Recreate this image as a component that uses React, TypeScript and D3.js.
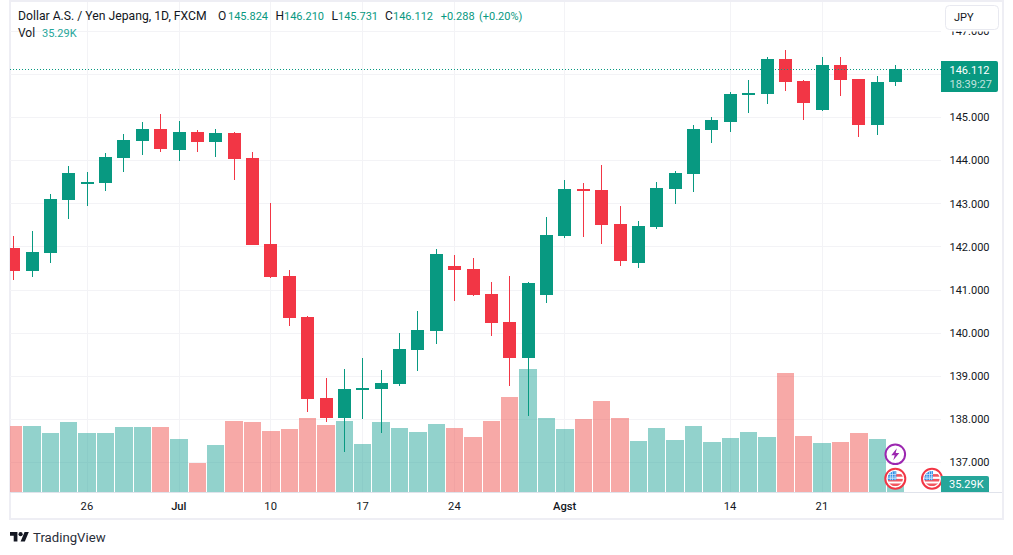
import React, { useEffect, useRef } from "react";
import * as d3 from "d3";

const days = [
  "06-20", "06-21", "06-22", "06-23", "06-26", "06-27", "06-28", "06-29", "06-30", "07-03",
  "07-04", "07-05", "07-06", "07-07", "07-10", "07-11", "07-12", "07-13", "07-14", "07-17",
  "07-18", "07-19", "07-20", "07-21", "07-24", "07-25", "07-26", "07-27", "07-28", "07-31",
  "08-01", "08-02", "08-03", "08-04", "08-07", "08-08", "08-09", "08-10", "08-11", "08-14",
  "08-15", "08-16", "08-17", "08-18", "08-21", "08-22", "08-23", "08-24", "08-25",
];

const opens = [
  141.97, 141.436, 141.854, 143.083, 143.454, 143.477, 144.057, 144.451, 144.729, 144.242,
  144.659, 144.428, 144.636, 144.057, 142.062, 141.32, 140.37, 138.492, 138.028, 138.677,
  138.701, 138.817, 139.605, 140.045, 141.553, 141.483, 140.903, 140.254, 139.419, 140.88,
  142.248, 143.338, 143.315, 142.526, 141.622, 142.457, 143.338, 143.686, 144.706, 144.891,
  145.517, 145.54, 146.352, 145.842, 145.17, 146.213, 145.888, 144.822, 145.824,
];
const highs = [
  142.248, 142.364, 143.222, 143.871, 143.732, 144.173, 144.613, 144.891, 145.077, 144.914,
  144.706, 144.729, 144.659, 144.196, 143.013, 141.46, 140.393, 138.956, 139.164, 139.419,
  139.141, 139.999, 140.509, 141.947, 141.808, 141.738, 141.182, 141.321, 141.182, 142.689,
  143.546, 143.477, 143.894, 142.944, 142.596, 143.5, 143.755, 144.822, 145.007, 145.587,
  145.865, 146.398, 146.561, 145.865, 146.398, 146.398, 145.888, 145.958, 146.21,
];
const lows = [
  141.228, 141.297, 141.622, 142.642, 142.944, 143.291, 143.732, 144.126, 144.196, 143.987,
  144.196, 144.08, 143.546, 142.039, 141.274, 140.161, 138.167, 137.935, 137.24, 138.005,
  137.68, 138.77, 139.118, 139.744, 140.741, 140.857, 139.93, 138.77, 138.075, 140.695,
  142.202, 142.225, 142.062, 141.553, 141.506, 142.41, 142.99, 143.268, 144.404, 144.659,
  145.1, 145.309, 145.61, 144.937, 145.146, 145.494, 144.544, 144.59, 145.731,
];
const closes = [
  141.436, 141.877, 143.106, 143.709, 143.5, 144.08, 144.474, 144.729, 144.265, 144.659,
  144.428, 144.636, 144.033, 142.039, 141.297, 140.347, 138.469, 138.028, 138.701, 138.724,
  138.84, 139.628, 140.069, 141.831, 141.46, 140.88, 140.231, 139.419, 141.158, 142.271,
  143.338, 143.291, 142.503, 141.668, 142.48, 143.361, 143.709, 144.729, 144.938, 145.54,
  145.564, 146.352, 145.819, 145.332, 146.213, 145.865, 144.822, 145.819, 146.112,
];
// thousands
const volumes = [
  291, 291, 260, 309, 260, 260, 287, 287, 287, 234,
  128, 207, 313, 309, 269, 278, 326, 295, 313, 212,
  309, 282, 265, 300, 282, 243, 313, 419, 542, 326,
  278, 322, 401, 326, 225, 282, 229, 291, 221, 238,
  265, 243, 525, 247, 216, 221, 260, 234, 35.29,
];

const priceTicks = [147, 146, 145, 144, 143, 142, 141, 140, 139, 138, 137];
// 146.000 sits behind the last price tag, so it gets a grid line but no label
const priceLabels = [147, 145, 144, 143, 142, 141, 140, 139, 138, 137];
const timeTickDays = ["06-26", "07-03", "07-10", "07-17", "07-24", "08-01", "08-14", "08-21"];
const timeTickLabels = ["26", "Jul", "10", "17", "24", "Agst", "14", "21"];

const UP = "#089981";
const DOWN = "#f23645";
const VOL_UP = "rgba(38,166,154,0.5)";
const VOL_DOWN = "rgba(239,83,80,0.5)";
const GRID = "#f3f3f6";
const TEXT = "#131722";
const FONT = "Roboto, sans-serif";

const width = 1013;
const height = 555;
const plot = { left: 10, right: 941, top: 2, bottom: 492 };

const App: React.FC = () => {
  const d3Container = useRef<SVGSVGElement>(null);

  useEffect(() => {
    if (!d3Container.current) return;
    const svg = d3.select(d3Container.current).html("");

    const x = d3.scalePoint<string>().domain(days).range([13.7, 895.7]);
    const y = d3.scaleLinear().domain([137, 147]).range([462.6, 31.1]);
    const yVol = d3.scaleLinear().domain([0, 550]).range([plot.bottom, plot.bottom - 550 / 4.41]);
    const px = (d: string) => Math.floor(x(d) as number);

    const defs = svg.append("defs");
    defs.append("clipPath").attr("id", "plot-clip").append("rect")
      .attr("x", plot.left).attr("y", plot.top)
      .attr("width", plot.right - plot.left).attr("height", plot.bottom - plot.top);

    // frame
    svg.append("rect")
      .attr("x", 10).attr("y", 1).attr("width", 993).attr("height", 518)
      .attr("fill", "#fff").attr("stroke", "#eeeef4").attr("stroke-width", 2);

    const chart = svg.append("g").attr("clip-path", "url(#plot-clip)");

    // grid
    chart.append("g").selectAll("line").data(priceTicks).join("line")
      .attr("x1", plot.left).attr("x2", plot.right)
      .attr("y1", (d) => Math.floor(y(d)) + 0.5).attr("y2", (d) => Math.floor(y(d)) + 0.5)
      .attr("stroke", GRID);
    chart.append("g").selectAll("line").data(timeTickDays).join("line")
      .attr("x1", (d) => px(d) + 0.5).attr("x2", (d) => px(d) + 0.5)
      .attr("y1", plot.top).attr("y2", plot.bottom)
      .attr("stroke", GRID);

    const idx = d3.range(days.length);
    const isUp = (i: number) => closes[i] >= opens[i];

    // volume
    chart.append("g").attr("shape-rendering", "crispEdges").selectAll("rect").data(idx).join("rect")
      .attr("x", (i) => Math.ceil((x(days[i]) as number) - 9.2))
      .attr("width", (i) => Math.ceil((x(days[i]) as number) + 9.175) - 1 - Math.ceil((x(days[i]) as number) - 9.2))
      .attr("y", (i) => Math.round(yVol(volumes[i])))
      .attr("height", (i) => plot.bottom - Math.round(yVol(volumes[i])))
      .attr("fill", (i) => (isUp(i) ? VOL_UP : VOL_DOWN));

    // candles
    const candles = chart.append("g").attr("shape-rendering", "crispEdges");
    candles.selectAll("rect.wick").data(idx).join("rect").attr("class", "wick")
      .attr("x", (i) => px(days[i]))
      .attr("width", 1)
      .attr("y", (i) => Math.round(y(highs[i])))
      .attr("height", (i) => Math.round(y(lows[i])) - Math.round(y(highs[i])))
      .attr("fill", (i) => (isUp(i) ? UP : DOWN));
    candles.selectAll("rect.body").data(idx).join("rect").attr("class", "body")
      .attr("x", (i) => px(days[i]) - 6)
      .attr("width", 13)
      .attr("y", (i) => Math.round(y(Math.max(opens[i], closes[i]))))
      .attr("height", (i) => Math.max(2, Math.round(y(Math.min(opens[i], closes[i]))) - Math.round(y(Math.max(opens[i], closes[i])))))
      .attr("fill", (i) => (isUp(i) ? UP : DOWN));

    // last price line
    const lastClose = closes[closes.length - 1];
    const lastY = Math.floor(y(lastClose)) + 0.5;
    svg.append("line")
      .attr("x1", plot.left).attr("x2", plot.right).attr("y1", lastY).attr("y2", lastY)
      .attr("stroke", UP).attr("stroke-dasharray", "1 2");

    // event icons
    const lastX = x(days[days.length - 1]) as number;
    const bolt = svg.append("g").attr("transform", `translate(${lastX - 0.4},454.3)`);
    bolt.append("circle").attr("r", 9.8).attr("fill", "#fff").attr("stroke", "#9c27b0").attr("stroke-width", 2);
    bolt.append("path").attr("d", "M1.5 -6 L-4 1 L-0.6 1 L-2 6 L4 -1.3 L0.4 -1.3 Z").attr("fill", "#9c27b0");

    const flag = (cx: number, id: string) => {
      const g = svg.append("g").attr("transform", `translate(${cx},478.7)`);
      g.append("circle").attr("r", 10).attr("fill", "#fff").attr("stroke", "#f23645").attr("stroke-width", 2);
      defs.append("clipPath").attr("id", id).append("circle").attr("r", 7.6);
      const inner = g.append("g").attr("clip-path", `url(#${id})`);
      inner.append("rect").attr("x", -8).attr("y", -8).attr("width", 16).attr("height", 16).attr("fill", "#fff");
      [-4.6, 0.2, 4.8].forEach((sy) => {
        inner.append("rect").attr("x", -8).attr("y", sy).attr("width", 16).attr("height", 2.6).attr("fill", "#f2555f");
      });
      inner.append("rect").attr("x", -8).attr("y", -8).attr("width", 9).attr("height", 9.4).attr("fill", "#2f8fe6");
      [-5.4, -3, -0.6].forEach((gx) => {
        inner.append("rect").attr("x", gx).attr("y", -8).attr("width", 0.7).attr("height", 9.4).attr("fill", "#d5e9fb");
      });
      [-4.4, -2, -0.4].forEach((gy) => {
        inner.append("rect").attr("x", -8).attr("y", gy).attr("width", 9).attr("height", 0.7).attr("fill", "#d5e9fb");
      });
    };
    flag(lastX - 0.4, "flag-a");
    flag(932, "flag-b");

    // time axis
    svg.append("line")
      .attr("x1", plot.left).attr("x2", 1002).attr("y1", plot.bottom + 0.5).attr("y2", plot.bottom + 0.5)
      .attr("stroke", "#e0e3eb");
    const timeAxis = d3.axisBottom(x).tickValues(timeTickDays).tickSize(0).tickPadding(0)
      .tickFormat((d) => timeTickLabels[timeTickDays.indexOf(d)]);
    const xAxisG = svg.append("g").attr("transform", "translate(-0.8,497)").call(timeAxis);
    xAxisG.select(".domain").remove();
    xAxisG.selectAll("text")
      .attr("y", 13).attr("dy", 0)
      .attr("font-family", FONT).attr("font-size", 11.2).attr("fill", TEXT)
      .attr("font-weight", (d: any) => (d === "07-03" || d === "08-01" ? 500 : 400));

    // price axis
    const priceAxis = d3.axisRight(y).tickValues(priceLabels).tickSize(0).tickPadding(0).tickFormat(d3.format(".3f") as any);
    const yAxisG = svg.append("g").attr("transform", "translate(949.5,-0.5)").call(priceAxis);
    yAxisG.select(".domain").remove();
    yAxisG.selectAll("text")
      .attr("x", 0).attr("dy", "0.35em")
      .attr("font-family", FONT).attr("font-size", 11).attr("fill", TEXT);

    // currency button
    svg.append("rect")
      .attr("x", 943).attr("y", 2).attr("width", 59).attr("height", 29.5)
      .attr("fill", "#fff");
    svg.append("rect")
      .attr("x", 945.5).attr("y", 5.5).attr("width", 53).attr("height", 24).attr("rx", 4)
      .attr("fill", "#fff").attr("stroke", "#e8e9f0");
    svg.append("text").attr("x", 954).attr("y", 21.3)
      .attr("font-family", FONT).attr("font-size", 11).attr("fill", TEXT).text("JPY");

    // price tag
    svg.append("path").attr("d", "M941 61 H996 Q998 61 998 63 V90 Q998 92 996 92 H941 Z").attr("fill", UP);
    svg.append("text").attr("x", 949.5).attr("y", 73.6)
      .attr("font-family", FONT).attr("font-size", 11).attr("fill", "#fff").text(d3.format(".3f")(lastClose));
    svg.append("text").attr("x", 949.5).attr("y", 87.6)
      .attr("font-family", FONT).attr("font-size", 11).attr("fill", "#fff").attr("fill-opacity", 0.75).text("18:39:27");

    // volume tag
    svg.append("path").attr("d", "M941 476 H987 Q989 476 989 478 V492 H941 Z").attr("fill", "#26a69a");
    svg.append("text").attr("x", 949).attr("y", 488)
      .attr("font-family", FONT).attr("font-size", 11).attr("fill", "#fff").text("35.29K");

    // legend
    const legend = svg.append("g").attr("font-family", FONT).attr("font-size", 11);
    const legendText = (tx: number, ty: number, s: string, fill: string, size = 11) =>
      legend.append("text").attr("x", tx).attr("y", ty).attr("fill", fill).attr("font-size", size).text(s);
    legendText(18, 20, "Dollar A.S. / Yen Jepang, 1D, FXCM", TEXT, 12.2);
    legendText(218, 20, "O", TEXT, 12);
    legendText(228, 20, "145.824", UP);
    legendText(275.5, 20, "H", TEXT, 12);
    legendText(284, 20, "146.210", UP);
    legendText(331.5, 20, "L", TEXT, 12);
    legendText(338, 20, "145.731", UP);
    legendText(385, 20, "C", TEXT, 12);
    legendText(393, 20, "146.112", UP);
    legendText(440.7, 20, "+0.288", UP);
    legendText(479, 20, "(+0.20%)", UP);
    legendText(18, 37, "Vol", TEXT, 12);
    legendText(42, 37, "35.29K", "#26a69a");

    // logo
    const logo = svg.append("g").attr("transform", "translate(10,529.9) scale(0.53)").attr("fill", TEXT);
    logo.append("path").attr("d", "M14 22H7V11H0V4h14v18zM28 22h-8l7.5-18h8L28 22z");
    logo.append("circle").attr("cx", 20).attr("cy", 8).attr("r", 4);
    svg.append("text").attr("x", 33).attr("y", 542)
      .attr("font-family", FONT).attr("font-size", 13.2).attr("fill", "#2a2e39").text("TradingView");
  }, []);

  return (
    <svg
      ref={d3Container}
      width={width}
      height={height}
      style={{ position: "absolute", left: 0, top: 0 }}
    />
  );
};

export default App;
